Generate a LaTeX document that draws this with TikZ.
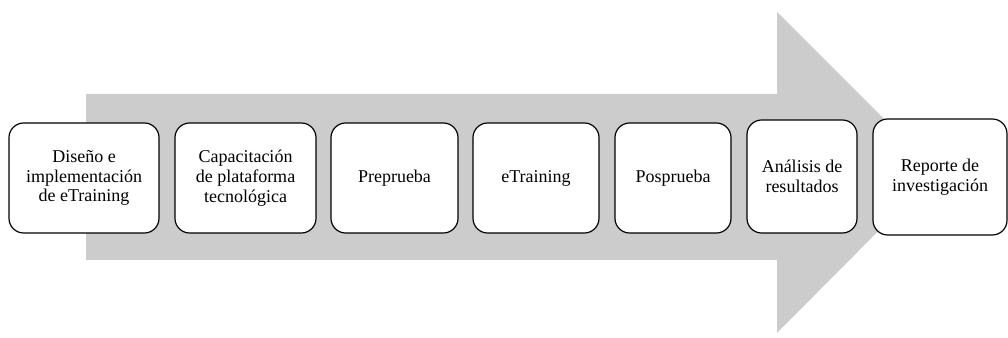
\documentclass[tikz,border=0pt]{standalone}
\usepackage{fontspec}
\setmainfont{Liberation Serif}
\usepackage{tikz}
\definecolor{grisflecha}{rgb}{0.8,0.8,0.8}

\begin{document}
\begin{tikzpicture}[x=0.75pt,y=-0.75pt,line join=round,
  etapa/.style={draw=black,line width=0.9pt,fill=white,rounded corners=11pt,
    align=center,font=\fontsize{13.5}{14.8}\selectfont,inner sep=2pt,
    minimum height=82.5pt}]
\useasboundingbox (0,0) rectangle (1008,338);
% flecha de fondo
\fill[color=grisflecha] (86,94) -- (777,94) -- (777,12) -- (937,172) -- (777,333) -- (777,260) -- (86,260) -- cycle;
% etapas
\node[etapa,minimum width=112.5pt] (diseno) at (84,178) {Diseño e\\implementación\\de eTraining};
\node[etapa,minimum width=105.75pt] (capacitacion) at (245.5,178) {Capacitación\\de plataforma\\tecnológica};
\node[etapa,minimum width=95.25pt] (preprueba) at (394.5,178) {Preprueba};
\node[etapa,minimum width=94.5pt] (etraining) at (536,178) {eTraining};
\node[etapa,minimum width=87pt] (posprueba) at (673,178) {Posprueba};
\node[etapa,minimum width=82.5pt,minimum height=84.75pt] (analisis) at (802,176.5) {Análisis de\\resultados};
\node[etapa,minimum width=100.5pt,minimum height=87pt] (reporte) at (940,177) {Reporte de\\investigación};
\end{tikzpicture}
\end{document}
